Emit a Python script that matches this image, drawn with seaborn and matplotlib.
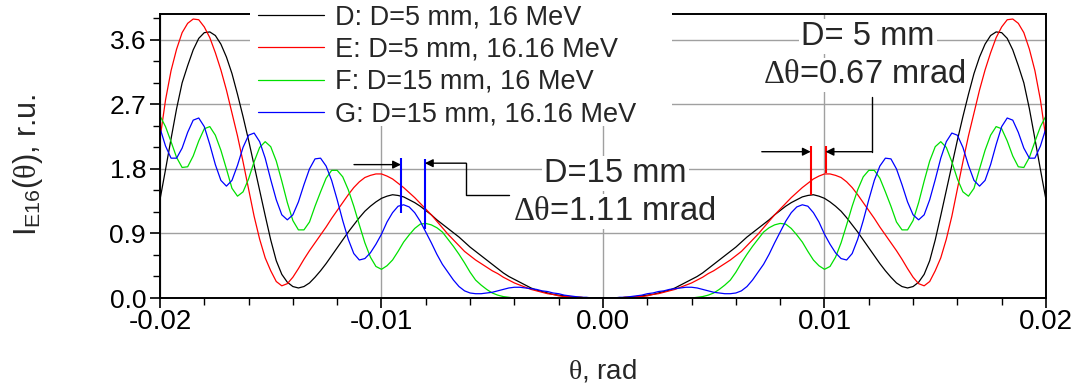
import numpy as np
import pandas as pd
import matplotlib
matplotlib.use("Agg")
import matplotlib.pyplot as plt
from matplotlib.ticker import MultipleLocator
from matplotlib.patches import Rectangle
import seaborn as sns

theta_half = np.linspace(0, 0.02, 81)

I_D = [0.00, 0.00, 0.00, 0.00, 0.01, 0.01, 0.02, 0.03, 0.04, 0.05,
       0.07, 0.09, 0.11, 0.14, 0.18, 0.22, 0.26, 0.30, 0.35, 0.41,
       0.47, 0.53, 0.59, 0.65, 0.71, 0.78, 0.85, 0.91, 0.97, 1.03,
       1.09, 1.16, 1.22, 1.28, 1.33, 1.37, 1.41, 1.43, 1.44, 1.42,
       1.39, 1.34, 1.28, 1.21, 1.12, 1.02, 0.92, 0.81, 0.70, 0.59,
       0.48, 0.38, 0.29, 0.21, 0.16, 0.14, 0.16, 0.22, 0.33, 0.52,
       0.81, 1.15, 1.50, 1.85, 2.20, 2.53, 2.84, 3.13, 3.36, 3.54,
       3.66, 3.71, 3.70, 3.62, 3.46, 3.24, 3.00, 2.64, 2.22, 1.79,
       1.37]
I_E = [0.00, 0.00, 0.00, 0.00, 0.01, 0.01, 0.02, 0.02, 0.03, 0.05,
       0.06, 0.08, 0.10, 0.12, 0.15, 0.18, 0.21, 0.25, 0.29, 0.34,
       0.38, 0.43, 0.48, 0.53, 0.59, 0.65, 0.73, 0.81, 0.89, 0.98,
       1.07, 1.16, 1.24, 1.32, 1.40, 1.47, 1.54, 1.60, 1.66, 1.70,
       1.73, 1.73, 1.71, 1.68, 1.62, 1.54, 1.44, 1.33, 1.22, 1.11,
       0.99, 0.88, 0.77, 0.66, 0.54, 0.41, 0.29, 0.20, 0.17, 0.23,
       0.38, 0.56, 0.82, 1.14, 1.52, 1.90, 2.26, 2.58, 2.90, 3.18,
       3.42, 3.63, 3.78, 3.88, 3.89, 3.83, 3.70, 3.47, 3.17, 2.76,
       2.22]
I_F = [0.00, 0.00, 0.00, 0.00, 0.00, 0.00, 0.00, 0.00, 0.00, 0.00,
       0.00, 0.00, 0.00, 0.00, 0.00, 0.00, 0.00, 0.01, 0.02, 0.04,
       0.07, 0.12, 0.18, 0.25, 0.36, 0.49, 0.61, 0.72, 0.82, 0.92,
       0.98, 1.02, 1.04, 1.03, 0.97, 0.88, 0.78, 0.65, 0.53, 0.45,
       0.40, 0.44, 0.57, 0.77, 1.02, 1.28, 1.51, 1.69, 1.78, 1.78,
       1.67, 1.48, 1.28, 1.06, 0.95, 0.95, 1.08, 1.33, 1.63, 1.91,
       2.11, 2.18, 2.10, 1.90, 1.66, 1.48, 1.42, 1.53, 1.80, 2.06,
       2.27, 2.39, 2.36, 2.19, 1.98, 1.83, 1.82, 1.96, 2.18, 2.39,
       2.54]
I_G = [0.00, 0.00, 0.00, 0.01, 0.01, 0.02, 0.03, 0.04, 0.06, 0.07,
       0.09, 0.10, 0.12, 0.13, 0.14, 0.15, 0.15, 0.14, 0.12, 0.10,
       0.08, 0.07, 0.06, 0.06, 0.07, 0.10, 0.16, 0.25, 0.36, 0.47,
       0.61, 0.77, 0.92, 1.07, 1.19, 1.27, 1.30, 1.28, 1.19, 1.06,
       0.89, 0.75, 0.63, 0.55, 0.53, 0.62, 0.82, 1.08, 1.37, 1.64,
       1.84, 1.95, 1.94, 1.80, 1.58, 1.34, 1.16, 1.09, 1.16, 1.37,
       1.65, 1.95, 2.18, 2.30, 2.27, 2.10, 1.85, 1.64, 1.56, 1.64,
       1.86, 2.14, 2.39, 2.51, 2.48, 2.31, 2.09, 1.95, 1.95, 2.12,
       2.37]

labels = ['D: D=5 mm, 16 MeV', 'E: D=5 mm, 16.16 MeV',
          'F: D=15 mm, 16 MeV', 'G: D=15 mm, 16.16 MeV']
colors = ['black', '#ff0000', '#00e000', '#0000ff']

xticks = [-0.02, -0.01, 0.0, 0.01, 0.02]
xticklabels = ['-0.02', '-0.01', '0.00', '0.01', '0.02']
yticks = [0.0, 0.9, 1.8, 2.7, 3.6]
yticklabels = ['0.0', '0.9', '1.8', '2.7', '3.6']

# peak markers of the two annotations
blue_marks = [-0.00912, -0.00804]
blue_lo = [1.19, 0.96]
blue_hi = [1.95, 1.94]
red_marks = [0.00938, 0.01005]
red_lo = [1.44, 1.74]
red_hi = [2.12, 2.12]


def mirror(v):
    v = np.asarray(v)
    return np.concatenate([v[:0:-1], v])


theta = np.concatenate([-theta_half[:0:-1], theta_half])
frames = []
for lab, vals in zip(labels, [I_D, I_E, I_F, I_G]):
    frames.append(pd.DataFrame({'theta': theta, 'I': mirror(vals), 'curve': lab}))
df = pd.concat(frames, ignore_index=True)

sns.set_theme(style='ticks')
plt.rcParams['font.family'] = ['Liberation Sans', 'DejaVu Sans']
plt.rcParams['axes.unicode_minus'] = False
plt.rcParams['mathtext.fontset'] = 'custom'
plt.rcParams['mathtext.rm'] = 'Liberation Serif'
plt.rcParams['mathtext.sf'] = 'Liberation Sans'
plt.rcParams['mathtext.it'] = 'Liberation Serif:italic'

fig = plt.figure(figsize=(10.78, 3.89), dpi=100)
ax = fig.add_axes([0.1484, 0.2339, 0.8219, 0.7301])

sns.lineplot(data=df, x='theta', y='I', hue='curve', hue_order=labels,
             palette=colors, lw=0.9, sort=False, estimator=None, ax=ax)

ax.set_xlim(-0.02, 0.02)
ax.set_ylim(0, 3.96)
ax.set_xticks(xticks)
ax.set_xticklabels(xticklabels, fontsize=20)
ax.set_yticks(yticks)
ax.set_yticklabels(yticklabels, fontsize=19)
ax.xaxis.set_minor_locator(MultipleLocator(0.002))
ax.yaxis.set_minor_locator(MultipleLocator(0.3))
ax.tick_params(which='major', direction='out', length=7, width=1.2, colors='black')
ax.tick_params(which='minor', direction='out', length=5, width=1.0, colors='black')
ax.tick_params(axis='x', which='major', pad=1)
ax.tick_params(axis='y', which='major', pad=3)
ax.grid(True, which='major', color='#a0a0a0', lw=1.0)
ax.set_axisbelow(True)
for s in ax.spines.values():
    s.set_visible(True)
    s.set_color('black')
    s.set_linewidth(1.4)

ax.set_xlabel(r'$\mathrm{\theta}$, rad', fontsize=20)
ax.set_ylabel(r'$\mathsf{I}_{\mathsf{E16}}$($\mathrm{\theta}$), r.u.', fontsize=22)
ax.xaxis.set_label_coords(0.5, -0.21)
ax.yaxis.set_label_coords(-0.13, 0.468)

# legend sits on a white patch that hides the top spine and gridlines
ax.add_patch(Rectangle((0.1016, 0.605), 0.4763, 0.45, transform=ax.transAxes,
                       facecolor='white', edgecolor='none', clip_on=False, zorder=4))
handles, _ = ax.get_legend_handles_labels()
leg = ax.legend(handles, labels, loc='upper left', bbox_to_anchor=(258 / 1078, 1.0 - 4 / 389),
                bbox_transform=fig.transFigure, frameon=False, fontsize=19.5,
                handlelength=2.45, handletextpad=0.38, labelspacing=0.24,
                borderpad=0, borderaxespad=0)
leg.set_zorder(5)

arrow = dict(arrowstyle='-|>', color='black', lw=1.0, shrinkA=0, shrinkB=0,
             mutation_scale=12)

# D=15 mm annotation
ax.vlines(blue_marks, blue_lo, blue_hi, color='#0000ff', lw=1.5, zorder=3)
ax.annotate('', xy=(blue_marks[0], 1.86), xytext=(-0.01124, 1.86), arrowprops=arrow)
ax.annotate('', xy=(blue_marks[1], 1.88), xytext=(-0.00618, 1.88), arrowprops=arrow)
ax.plot([-0.00618, -0.00618, -0.00423], [1.88, 1.44, 1.44], color='black', lw=1.0)
box = dict(facecolor='white', edgecolor='none', pad=1.5)
ax.text(0.00057, 1.74, 'D=15 mm', fontsize=23.5, ha='center', va='center', bbox=box, zorder=4)
ax.text(0.00052, 1.20, r'$\mathrm{\Delta\theta}$=1.11 mrad', fontsize=23.5,
        ha='center', va='center', bbox=box, zorder=4)

# D=5 mm annotation
ax.vlines(red_marks, red_lo, red_hi, color='#ff0000', lw=1.5, zorder=3)
ax.annotate('', xy=(red_marks[0], 2.04), xytext=(0.00717, 2.04), arrowprops=arrow)
ax.annotate('', xy=(red_marks[1], 2.04), xytext=(0.01215, 2.04), arrowprops=arrow)
ax.plot([0.01215, 0.01215], [2.04, 2.80], color='black', lw=1.0)
ax.text(0.01197, 3.64, 'D= 5 mm', fontsize=23.5, ha='center', va='center', bbox=box, zorder=4)
ax.text(0.01179, 3.11, r'$\mathrm{\Delta\theta}$=0.67 mrad', fontsize=23.5,
        ha='center', va='center', bbox=box, zorder=4)

fig.savefig('out.png', dpi=100)
